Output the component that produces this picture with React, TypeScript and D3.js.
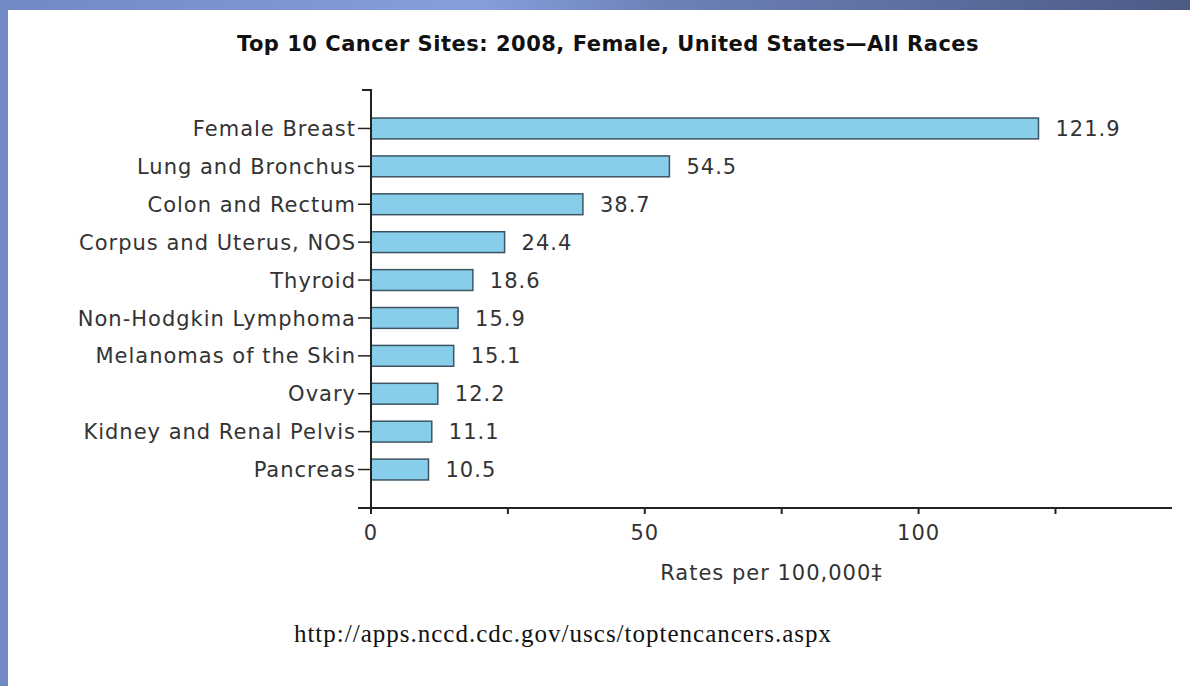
import * as d3 from "d3";
import { useRef, useEffect } from "react";

const sites = [
    "Female Breast",
    "Lung and Bronchus",
    "Colon and Rectum",
    "Corpus and Uterus, NOS",
    "Thyroid",
    "Non-Hodgkin Lymphoma",
    "Melanomas of the Skin",
    "Ovary",
    "Kidney and Renal Pelvis",
    "Pancreas",
];
const rates = [121.9, 54.5, 38.7, 24.4, 18.6, 15.9, 15.1, 12.2, 11.1, 10.5];
const xTicks = [0, 25, 50, 75, 100, 125];
const xTickLabels = ["0", "", "50", "", "100", ""];

const title = "Top 10 Cancer Sites: 2008, Female, United States\u2014All Races";
const xTitle = "Rates per 100,000\u2021";
const sourceUrl = "http://apps.nccd.cdc.gov/uscs/toptencancers.aspx";

export default function App() {
    const ref = useRef<SVGSVGElement | null>(null);

    useEffect(() => {
        const svg = d3.select(ref.current);
        svg.selectAll("*").remove();

        const width = 1190;
        const height = 686;
        svg.attr("width", width).attr("height", height);

        // slide background
        const defs = svg.append("defs");
        const grad = defs.append("linearGradient").attr("id", "bg").attr("x1", 0).attr("x2", 1).attr("y1", 0).attr("y2", 0);
        grad.append("stop").attr("offset", "0%").attr("stop-color", "#7189c6");
        grad.append("stop").attr("offset", "40%").attr("stop-color", "#86a0dc");
        grad.append("stop").attr("offset", "55%").attr("stop-color", "#6e82b8");
        grad.append("stop").attr("offset", "100%").attr("stop-color", "#4c5a85");
        svg.append("rect").attr("width", width).attr("height", height).attr("fill", "url(#bg)");
        svg.append("rect").attr("x", 8).attr("y", 10).attr("width", width - 8).attr("height", height - 10).attr("fill", "#fff");

        const font = "Verdana, 'DejaVu Sans', sans-serif";
        const fs = 21;
        const ls = 1;
        const left = 371;
        const right = 1172;
        const top = 90;
        const bottom = 508;

        const x = d3.scaleLinear().domain([0, d3.max(rates)! * 1.2]).range([left, right]);
        const y = d3.scaleBand().domain(sites).range([top, bottom]).paddingInner(0.45).paddingOuter(0.74);

        svg.append("text")
            .attr("x", 608).attr("y", 51)
            .attr("text-anchor", "middle")
            .attr("font-family", font).attr("font-weight", "bold").attr("font-size", fs)
            .attr("letter-spacing", 0.5)
            .attr("fill", "#111")
            .text(title);

        // bars
        svg.append("g")
            .selectAll("rect")
            .data(rates)
            .enter()
            .append("rect")
            .attr("x", x(0))
            .attr("y", (_, i) => y(sites[i])!)
            .attr("width", (d) => x(d) - x(0))
            .attr("height", y.bandwidth())
            .attr("fill", "#87ceeb")
            .attr("stroke", "#3d5463")
            .attr("stroke-width", 1.5);

        svg.append("g")
            .selectAll("text")
            .data(rates)
            .enter()
            .append("text")
            .attr("x", (d) => x(d) + 17)
            .attr("y", (_, i) => y(sites[i])! + y.bandwidth() / 2)
            .attr("dy", "0.36em")
            .attr("font-family", font).attr("font-size", fs)
            .attr("letter-spacing", ls)
            .attr("fill", "#333")
            .text((d) => d.toFixed(1));

        // y axis
        const yAxis = svg.append("g");
        yAxis.append("path")
            .attr("d", `M${left - 9},${top}H${left}V${bottom}`)
            .attr("fill", "none").attr("stroke", "#222").attr("stroke-width", 2);
        yAxis.selectAll("line")
            .data(sites)
            .enter()
            .append("line")
            .attr("x1", left - 13).attr("x2", left)
            .attr("y1", (d) => y(d)! + y.bandwidth() / 2)
            .attr("y2", (d) => y(d)! + y.bandwidth() / 2)
            .attr("stroke", "#222").attr("stroke-width", 1.5);
        yAxis.selectAll("text")
            .data(sites)
            .enter()
            .append("text")
            .attr("x", left - 15)
            .attr("y", (d) => y(d)! + y.bandwidth() / 2)
            .attr("dy", "0.36em")
            .attr("text-anchor", "end")
            .attr("font-family", font).attr("font-size", fs)
            .attr("letter-spacing", ls)
            .attr("fill", "#333")
            .text((d) => d);

        // x axis
        const xAxis = svg.append("g");
        xAxis.append("line")
            .attr("x1", left - 13).attr("x2", right)
            .attr("y1", bottom).attr("y2", bottom)
            .attr("stroke", "#222").attr("stroke-width", 2);
        xAxis.selectAll("line.tick")
            .data(xTicks)
            .enter()
            .append("line")
            .attr("class", "tick")
            .attr("x1", (d) => x(d)).attr("x2", (d) => x(d))
            .attr("y1", bottom).attr("y2", bottom + 6)
            .attr("stroke", "#222").attr("stroke-width", 2);
        xAxis.selectAll("text")
            .data(xTicks)
            .enter()
            .append("text")
            .attr("x", (d) => x(d))
            .attr("y", bottom + 32)
            .attr("text-anchor", "middle")
            .attr("font-family", font).attr("font-size", fs)
            .attr("letter-spacing", ls)
            .attr("fill", "#333")
            .text((_, i) => xTickLabels[i]);

        svg.append("text")
            .attr("x", (left + right) / 2).attr("y", 580)
            .attr("text-anchor", "middle")
            .attr("font-family", font).attr("font-size", fs)
            .attr("letter-spacing", ls)
            .attr("fill", "#333")
            .text(xTitle);

        svg.append("text")
            .attr("x", 563).attr("y", 642)
            .attr("text-anchor", "middle")
            .attr("font-family", "'Times New Roman', 'Liberation Serif', serif").attr("font-size", 25)
            .attr("letter-spacing", 1)
            .attr("fill", "#111")
            .text(sourceUrl);
    }, []);

    return <svg ref={ref} style={{ position: "absolute", left: 0, top: 0 }}></svg>;
}
